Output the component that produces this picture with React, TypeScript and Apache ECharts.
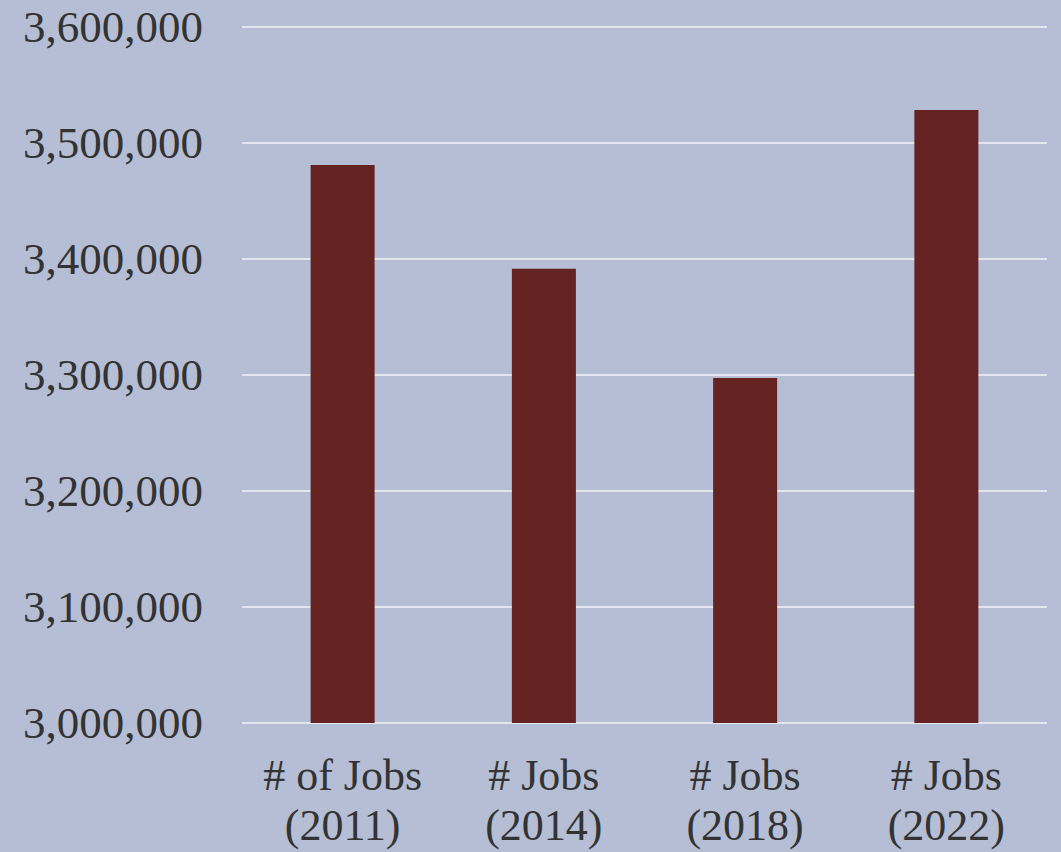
import React, { useEffect, useRef } from "react";
import * as echarts from "echarts";

const categories = ["# of Jobs\n(2011)", "# Jobs\n(2014)", "# Jobs\n(2018)", "# Jobs\n(2022)"];
const jobs = [3481000, 3391500, 3297500, 3528500];
const yMin = 3000000;
const yMax = 3600000;
const yStep = 100000;

export default function App() {
  const ref = useRef<HTMLDivElement>(null);
  useEffect(() => {
    if (!ref.current) return;
    const chart = echarts.init(ref.current, null, { renderer: "svg" });
    const font = "'Liberation Serif', 'Times New Roman', serif";
    chart.setOption({
      animation: false,
      backgroundColor: "#B5BED4",
      grid: { left: 242, right: 14, top: 27, bottom: 129, containLabel: false },
      xAxis: {
        type: "category",
        data: categories,
        axisLine: { show: false },
        axisTick: { show: false },
        axisLabel: {
          color: "#333333",
          fontFamily: font,
          fontSize: 44,
          lineHeight: 50,
          margin: 27,
          interval: 0,
        },
      },
      yAxis: {
        type: "value",
        min: yMin,
        max: yMax,
        interval: yStep,
        axisLine: { show: false },
        axisTick: { show: false },
        splitLine: { lineStyle: { color: "#E4E6EE", width: 2 } },
        axisLabel: {
          color: "#333333",
          fontFamily: font,
          fontSize: 45,
          margin: 39,
          formatter: (v: number) => v.toLocaleString("en-US"),
        },
      },
      series: [
        {
          type: "bar",
          data: jobs,
          barWidth: 64,
          itemStyle: { color: "#642220" },
        },
      ],
    });
    return () => chart.dispose();
  }, []);
  return (
    <div
      ref={ref}
      style={{ position: "fixed", left: 0, top: 0, width: 1061, height: 852 }}
    />
  );
}
